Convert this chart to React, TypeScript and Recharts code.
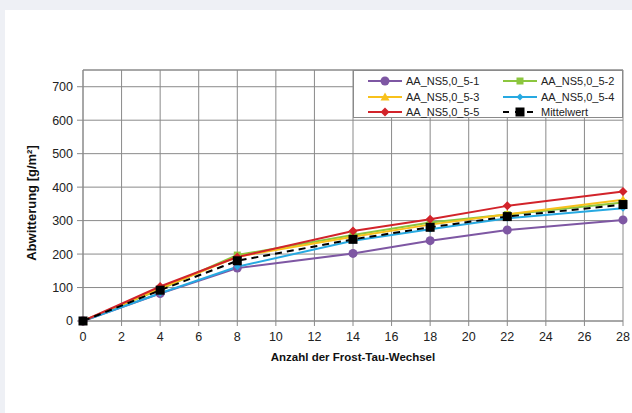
import React from 'react';
import {
  LineChart,
  Line,
  XAxis,
  YAxis,
  CartesianGrid,
  ReferenceLine,
} from 'recharts';

const cycles = [0, 4, 8, 14, 18, 22, 28];
const probe1 = [0, 82, 158, 202, 240, 272, 302];
const probe2 = [0, 95, 197, 257, 294, 318, 354];
const probe3 = [0, 97, 192, 252, 288, 319, 362];
const probe4 = [0, 83, 162, 240, 274, 307, 337];
const probe5 = [0, 103, 191, 269, 304, 344, 387];
const mittelwert = [0, 92, 180, 244, 280, 312, 348];

const xTicks = [0, 2, 4, 6, 8, 10, 12, 14, 16, 18, 20, 22, 24, 26, 28];
const yTicks = [0, 100, 200, 300, 400, 500, 600, 700];

type Shape = 'circle' | 'square' | 'triangle' | 'diamond' | 'smallDiamond' | 'bigSquare';

interface SeriesDef {
  key: string;
  name: string;
  color: string;
  shape: Shape;
  dashed?: boolean;
}

const series: SeriesDef[] = [
  { key: 's1', name: 'AA_NS5,0_5-1', color: '#7e57a3', shape: 'circle' },
  { key: 's2', name: 'AA_NS5,0_5-2', color: '#8cc63e', shape: 'square' },
  { key: 's3', name: 'AA_NS5,0_5-3', color: '#f8c11b', shape: 'triangle' },
  { key: 's4', name: 'AA_NS5,0_5-4', color: '#27a9e1', shape: 'smallDiamond' },
  { key: 's5', name: 'AA_NS5,0_5-5', color: '#d2232a', shape: 'diamond' },
  { key: 'mean', name: 'Mittelwert', color: '#000000', shape: 'bigSquare', dashed: true },
];

const data = cycles.map((c, i) => ({
  x: c,
  s1: probe1[i],
  s2: probe2[i],
  s3: probe3[i],
  s4: probe4[i],
  s5: probe5[i],
  mean: mittelwert[i],
}));

const marker = (shape: Shape, color: string, cx: number, cy: number, key?: string) => {
  switch (shape) {
    case 'circle':
      return <circle key={key} cx={cx} cy={cy} r={4.5} fill={color} />;
    case 'square':
      return <rect key={key} x={cx - 3.5} y={cy - 3.5} width={7} height={7} fill={color} />;
    case 'bigSquare':
      return <rect key={key} x={cx - 4.5} y={cy - 4.5} width={9} height={9} fill={color} />;
    case 'triangle':
      return (
        <polygon
          key={key}
          points={`${cx},${cy - 4.5} ${cx + 4.5},${cy + 3.5} ${cx - 4.5},${cy + 3.5}`}
          fill={color}
        />
      );
    case 'smallDiamond':
      return (
        <polygon
          key={key}
          points={`${cx},${cy - 3.5} ${cx + 3.5},${cy} ${cx},${cy + 3.5} ${cx - 3.5},${cy}`}
          fill={color}
        />
      );
    default:
      return (
        <polygon
          key={key}
          points={`${cx},${cy - 4.5} ${cx + 4.5},${cy} ${cx},${cy + 4.5} ${cx - 4.5},${cy}`}
          fill={color}
        />
      );
  }
};

const font = '"Liberation Sans", Arial, Helvetica, sans-serif';
const gridColor = '#8a8a8a';

const LegendBox = () => (
  <div
    style={{
      position: 'absolute',
      left: 353,
      top: 70,
      width: 270,
      height: 48,
      background: '#fff',
      border: '1px solid #8a8a8a',
      fontFamily: font,
      fontSize: 11,
      color: '#222',
      boxSizing: 'border-box',
    }}
  >
    {series.map((s, i) => {
      const col = i % 2;
      const row = Math.floor(i / 2);
      return (
        <div
          key={s.key}
          style={{
            position: 'absolute',
            left: col === 0 ? 13 : 148,
            top: 3 + row * 15.5,
            display: 'flex',
            alignItems: 'center',
            height: 14,
          }}
        >
          <svg width={36} height={12}>
            <line
              x1={1}
              y1={6}
              x2={35}
              y2={6}
              stroke={s.color}
              strokeWidth={2}
              strokeDasharray={s.dashed ? '6 6' : undefined}
            />
            {marker(s.shape, s.color, 18, 6)}
          </svg>
          <span style={{ marginLeft: 3 }}>{s.name}</span>
        </div>
      );
    })}
  </div>
);

export default function App() {
  return (
    <div
      style={{
        position: 'absolute',
        left: 0,
        top: 0,
        width: 632,
        height: 413,
        background: '#eef0f5',
        overflow: 'hidden',
      }}
    >
      <div
        style={{
          position: 'absolute',
          left: 5,
          top: 10,
          width: 627,
          height: 403,
          background: '#ffffff',
        }}
      />
      <div style={{ position: 'absolute', left: 0, top: 0 }}>
        <LineChart
          width={632}
          height={413}
          data={data}
          margin={{ top: 70, right: 9, bottom: 62, left: 43 }}
        >
          <CartesianGrid stroke={gridColor} strokeWidth={1} />
          <ReferenceLine y={750} stroke={gridColor} strokeWidth={1} ifOverflow="extendDomain" />
          <XAxis
            dataKey="x"
            type="number"
            domain={[0, 28]}
            ticks={xTicks}
            interval={0}
            height={30}
            stroke={gridColor}
            tickSize={5}
            tickMargin={6}
            tick={{ fill: '#222', fontSize: 12.5, fontFamily: font }}
            label={{
              content: () => (
                <text
                  x={353}
                  y={357}
                  textAnchor="middle"
                  dominantBaseline="central"
                  fontFamily={font}
                  fontSize={11.5}
                  fontWeight="bold"
                  fill="#111"
                >
                  Anzahl der Frost-Tau-Wechsel
                </text>
              ),
            }}
          />
          <YAxis
            type="number"
            domain={[0, 750]}
            ticks={yTicks}
            interval={0}
            width={40}
            stroke={gridColor}
            tickSize={6}
            tickMargin={4}
            tick={{ fill: '#222', fontSize: 12.5, fontFamily: font }}
            label={{
              content: () => (
                <text
                  x={31}
                  y={203}
                  transform="rotate(-90 31 203)"
                  textAnchor="middle"
                  dominantBaseline="central"
                  fontFamily={font}
                  fontSize={13}
                  fontWeight="bold"
                  fill="#111"
                >
                  Abwitterung [g/m²]
                </text>
              ),
            }}
          />
          {series.map((s) => (
            <Line
              key={s.key}
              dataKey={s.key}
              name={s.name}
              type="linear"
              stroke={s.color}
              strokeWidth={2}
              strokeDasharray={s.dashed ? '7 5' : undefined}
              isAnimationActive={false}
              dot={(p: any) => marker(s.shape, s.color, p.cx, p.cy, `${s.key}-${p.index}`)}
              activeDot={false}
            />
          ))}
        </LineChart>
      </div>
      <LegendBox />
    </div>
  );
}
